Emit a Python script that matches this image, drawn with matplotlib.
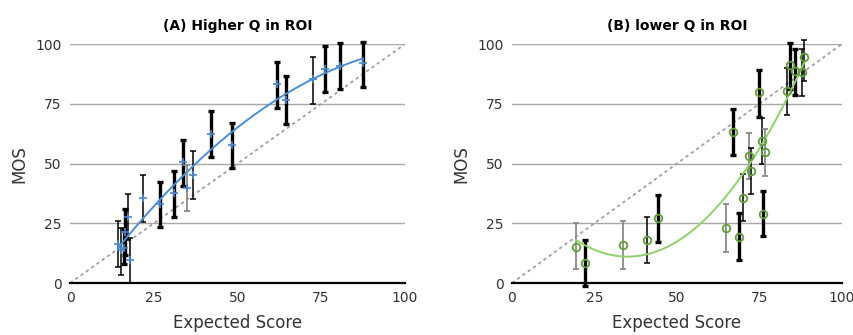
import numpy as np
import matplotlib
matplotlib.use("Agg")
import matplotlib.pyplot as plt

# ---------------- data ----------------
# (A) Higher Q in ROI
exp_a = [14.3, 15.3, 16.0, 16.5, 17.3, 18.0, 21.8, 26.8, 31.2, 33.6, 34.8, 36.7,
         42.0, 48.5, 61.7, 64.6, 72.7, 76.2, 80.7, 87.5]
mos_a = [16.3, 13.8, 14.8, 21.3, 27.7, 9.8, 35.8, 33.0, 37.7, 50.5, 39.9, 45.3,
         62.5, 57.6, 83.3, 76.7, 85.4, 89.5, 90.9, 92.2]
lo_a = [6.6, 3.3, 8.0, 11.6, 18.1, 0.0, 25.5, 23.3, 27.5, 40.7, 30.0, 35.3,
        52.6, 48.0, 73.5, 66.7, 75.0, 79.8, 81.2, 82.0]
hi_a = [25.8, 23.0, 22.5, 31.1, 37.4, 18.8, 45.3, 42.5, 47.1, 60.0, 49.5, 55.1,
        72.2, 67.2, 92.7, 86.5, 94.8, 99.4, 100.7, 101.1]

# (B) lower Q in ROI
exp_b = [19.5, 22.1, 33.6, 40.9, 44.2, 64.8, 66.9, 68.8, 70.1, 72.0, 72.6, 75.0,
         75.9, 76.2, 76.9, 83.3, 84.2, 85.8, 88.1, 88.6]
mos_b = [15.3, 8.4, 16.0, 17.9, 27.2, 23.0, 63.3, 19.2, 35.8, 53.4, 46.9, 79.8,
         59.6, 29.1, 54.8, 80.5, 91.2, 88.7, 88.3, 94.6]
lo_b = [5.9, -1.2, 6.1, 8.2, 17.4, 13.2, 53.7, 9.5, 26.1, 43.7, 37.1, 69.7,
        49.7, 19.5, 45.0, 70.4, 81.2, 78.9, 78.4, 84.7]
hi_b = [25.1, 18.1, 25.8, 27.5, 37.0, 33.0, 72.9, 29.3, 45.6, 63.0, 56.5, 89.3,
        69.2, 38.6, 64.6, 90.2, 100.7, 98.2, 98.0, 101.8]

ticks = [0, 25, 50, 75, 100]

# ---------------- styles ----------------
# per-bar look: "k" = thick black, "t" = thin black, "g" = thin gray
look_a = "ttkktttkkkgtkkkktkkk"
look_b = "gkgtkgkktgtktkgtkktt"
LOOK = {"k": ("black", 2.4), "t": ("black", 1.1), "g": ("#8a8a8a", 1.3)}


def draw(ax, xs, ys, lo, hi, look, title, mstyle, fitcol):
    ax.set_xlim(0, 100)
    ax.set_ylim(0, 100)
    for y in ticks[1:]:
        ax.axhline(y, color="#a8a8a8", lw=1.0, zorder=0)
    ax.plot([0, 100], [0, 100], color="#a0a0a0", lw=1.3,
            ls=(0, (1.8, 1.8)), zorder=1)

    for x, y, l, h, c in zip(xs, ys, lo, hi, look):
        col, w = LOOK[c]
        ax.errorbar([x], [y], yerr=[[y - l], [h - y]], fmt="none",
                    ecolor=col, elinewidth=w, capsize=2.5, capthick=w,
                    clip_on=False, zorder=2)

    # polynomial trend line (2nd order)
    p = np.polyfit(xs, ys, 2)
    xx = np.linspace(min(xs), max(xs), 200)
    ax.plot(xx, np.polyval(p, xx), color=fitcol, lw=1.4, zorder=3)

    ax.plot(xs, ys, **mstyle, ls="none", zorder=4, clip_on=False)

    for s in ("top", "right", "left"):
        ax.spines[s].set_visible(False)
    ax.spines["bottom"].set_linewidth(1.6)
    ax.set_xticks(ticks)
    ax.set_yticks(ticks)
    ax.tick_params(length=0, labelsize=10, colors="#333333", pad=6)
    ax.set_title(title, fontsize=10, fontweight="bold", pad=10)
    ax.set_xlabel("Expected Score", fontsize=12, color="#333333", labelpad=6)
    ax.set_ylabel("MOS", fontsize=12, color="#333333", labelpad=5)


fig = plt.figure(figsize=(8.54, 3.35), dpi=100)
ax1 = fig.add_axes([0.082, 0.155, 0.392, 0.713])
ax2 = fig.add_axes([0.5995, 0.155, 0.386, 0.713])

draw(ax1, exp_a, mos_a, lo_a, hi_a, look_a, "(A) Higher Q in ROI",
     dict(marker="+", ms=6, mew=1.2, color="#4a86c8"), "#4a8fd6")
draw(ax2, exp_b, mos_b, lo_b, hi_b, look_b, "(B) lower Q in ROI",
     dict(marker="o", ms=5.5, mew=1.3, mfc="none", mec="#5f9f3a"), "#8fd16a")

fig.savefig("out.png", dpi=100)
